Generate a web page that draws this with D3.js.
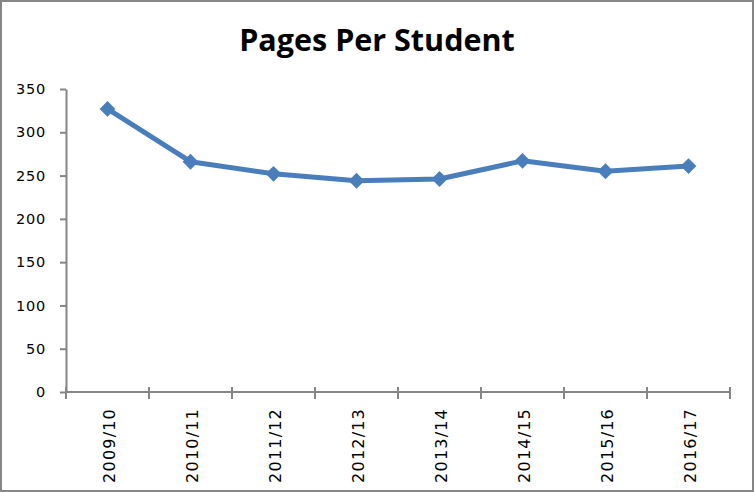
<!DOCTYPE html>
<html>
<head>
<meta charset="utf-8">
<script src="https://cdn.jsdelivr.net/npm/d3@7"></script>
<style>
  html, body { margin: 0; padding: 0; background: #fff; }
  svg { display: block; }
</style>
</head>
<body>
<figure id="line-chart" style="margin:0"></figure>
<script>
const categories = ["2009/10", "2010/11", "2011/12", "2012/13", "2013/14", "2014/15", "2015/16", "2016/17"];
const pages = [327, 266, 252, 244, 246, 267, 255, 261];
const yTicks = [0, 50, 100, 150, 200, 250, 300, 350];

const width = 754, height = 492;
const axisColor = "#868686";
const lineColor = "#4a7ebb";
const labelFont = "'DejaVu Sans', Verdana, sans-serif";

const svg = d3.select("figure#line-chart")
  .append("svg")
  .attr("width", width)
  .attr("height", height);

// outer frame
svg.append("rect")
  .attr("x", 1).attr("y", 1)
  .attr("width", width - 2).attr("height", height - 2)
  .attr("fill", "#fff")
  .attr("stroke", axisColor)
  .attr("stroke-width", 2);

svg.append("text")
  .attr("x", 377).attr("y", 51)
  .attr("text-anchor", "middle")
  .style("font-family", "'Open Sans', Lato, sans-serif")
  .style("font-weight", "bold")
  .style("font-size", "30.5px")
  .attr("fill", "#000")
  .text("Pages Per Student");

const xScale = d3.scaleBand()
  .domain(categories)
  .range([66, 730]);

const yScale = d3.scaleLinear()
  .domain([0, 350])
  .range([392, 89]);

// y axis
const yAxis = svg.append("g")
  .attr("transform", "translate(66,0)")
  .call(d3.axisLeft(yScale).tickValues(yTicks).tickSize(6).tickPadding(14).tickSizeOuter(0));
yAxis.select(".domain").attr("stroke", axisColor).attr("stroke-width", 2);
yAxis.selectAll(".tick line").attr("stroke", axisColor).attr("stroke-width", 2);
yAxis.selectAll(".tick text")
  .style("font-family", labelFont)
  .style("font-size", "14.5px")
  .style("letter-spacing", "0.8px")
  .attr("fill", "#000");

// x axis with ticks at category boundaries
const xAxis = svg.append("g")
  .attr("transform", "translate(0,392)");
xAxis.append("line")
  .attr("x1", xScale.range()[0]).attr("x2", xScale.range()[1])
  .attr("stroke", axisColor).attr("stroke-width", 2);
const bounds = categories.map(c => xScale(c)).concat([xScale.range()[1]]);
xAxis.selectAll("line.tick")
  .data(bounds)
  .enter()
  .append("line")
  .attr("class", "tick")
  .attr("x1", d => d).attr("x2", d => d)
  .attr("y1", -5).attr("y2", 7)
  .attr("stroke", axisColor).attr("stroke-width", 2);
xAxis.selectAll("text")
  .data(categories)
  .enter()
  .append("text")
  .attr("transform", d => "translate(" + (xScale(d) + xScale.bandwidth() / 2 + 2) + ",16)rotate(-90)")
  .attr("text-anchor", "end")
  .attr("dy", "0.35em")
  .style("font-family", labelFont)
  .style("font-size", "16px")
  .style("letter-spacing", "1.2px")
  .attr("fill", "#000")
  .text(d => d);

// line
const line = d3.line()
  .x((d, i) => xScale(categories[i]) + xScale.bandwidth() / 2)
  .y(d => yScale(d));

svg.append("path")
  .datum(pages)
  .attr("fill", "none")
  .attr("stroke", lineColor)
  .attr("stroke-width", 5)
  .attr("stroke-linejoin", "round")
  .attr("d", line);

svg.selectAll("path.marker")
  .data(pages)
  .enter()
  .append("path")
  .attr("class", "marker")
  .attr("d", d3.symbol().type(d3.symbolDiamond2).size(160))
  .attr("transform", (d, i) => "translate(" + (xScale(categories[i]) + xScale.bandwidth() / 2) + "," + yScale(d) + ")")
  .attr("fill", lineColor);
</script>
</body>
</html>
